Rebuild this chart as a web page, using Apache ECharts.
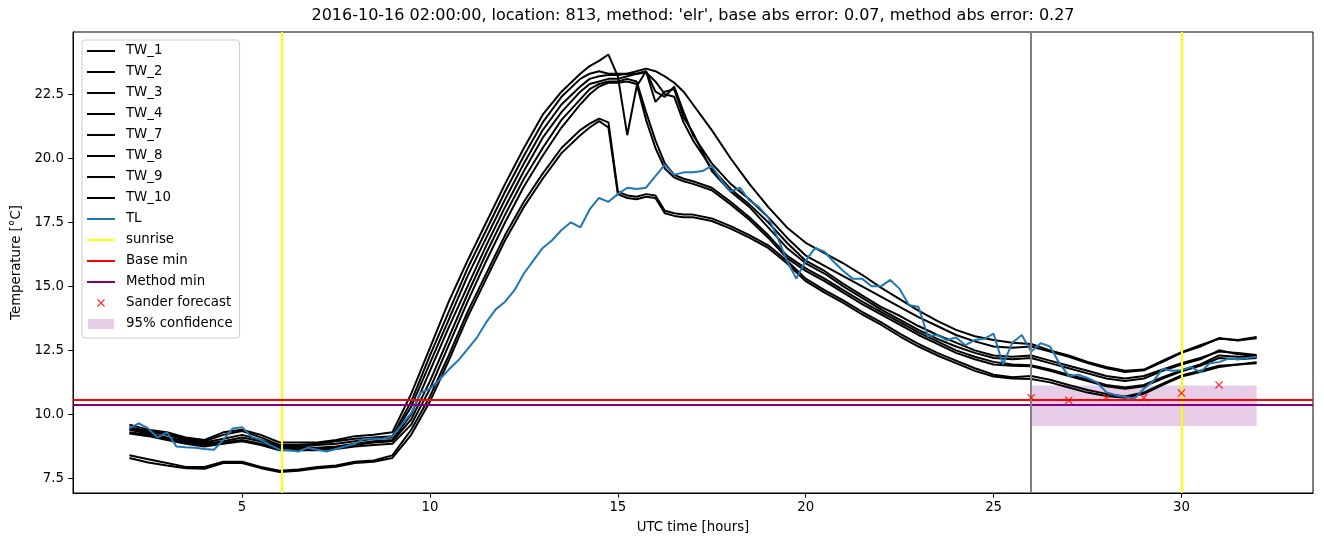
<!DOCTYPE html>
<html>
<head>
<meta charset="utf-8">
<title>TW / TL temperatures, location 813</title>
<script src="https://cdn.jsdelivr.net/npm/echarts@6/dist/echarts.min.js"></script>
<style>
  html, body { margin: 0; padding: 0; background: #fff; }
  #chart { width: 1324px; height: 547px; }
</style>
</head>
<body>
<div id="chart"></div>
<script>
// ---------- data ----------

// shared time grid for the TW stations (finer around the afternoon peak)
const twHours = [2, 2.5, 3, 3.5, 4, 4.5, 5, 5.5, 6, 6.5, 7, 7.5, 8, 8.5, 9,
  9.5, 10, 10.5, 11, 11.5, 12, 12.5, 13, 13.5, 14, 14.25, 14.5, 14.75,
  15, 15.25, 15.5, 15.75, 16, 16.25, 16.5, 16.75, 17,
  17.5, 18, 18.5, 19, 19.5, 20, 20.5, 21, 21.5, 22, 22.5, 23, 23.5, 24, 24.5, 25, 25.5,
  26, 26.5, 27, 27.5, 28, 28.5, 29, 29.5, 30, 30.5, 31, 31.5, 32];

const tw1 = [9.5, 9.35, 9.25, 9.05, 8.95, 9.2, 9.35, 9.1, 8.8, 8.8, 8.85, 8.95, 9.05, 9.1, 9.15,
  10.5, 12.3, 14.0, 15.7, 17.2, 18.7, 20.1, 21.4, 22.4, 23.1, 23.3, 23.4, 23.3,
  23.3, 23.3, 23.4, 23.5, 23.4, 23.2, 22.95, 22.6, 22.1,
  21.1, 20.0, 19.0, 18.1, 17.3, 16.7, 16.3, 15.9, 15.45, 14.95, 14.5, 14.05, 13.65, 13.3, 13.05, 12.9, 12.8,
  12.75, 12.5, 12.3, 12.05, 11.85, 11.7, 11.75, 12.1, 12.43, 12.7, 12.95, 12.9, 13.02];
const tw2 = [9.45, 9.3, 9.2, 9.0, 8.9, 9.05, 9.2, 9.0, 8.75, 8.75, 8.8, 8.85, 8.95, 9.05, 9.1,
  10.3, 12.0, 13.7, 15.4, 16.9, 18.4, 19.8, 21.1, 22.1, 22.8, 23.1, 23.2, 23.25,
  23.25, 23.3, 23.3, 23.4, 22.6, 22.4, 22.8, 21.8, 20.9,
  19.8, 19.0, 18.4, 17.7, 16.9, 16.2, 15.8, 15.4, 15.0, 14.6, 14.2, 13.8, 13.45, 13.1, 12.85, 12.65, 12.6,
  12.65, 12.45, 12.25, 12.0, 11.8, 11.65, 11.72, 12.05, 12.4, 12.65, 12.98, 12.88, 12.97];
const tw3 = [9.6, 9.4, 9.3, 9.1, 9.0, 9.3, 9.4, 9.2, 8.9, 8.9, 8.9, 9.0, 9.15, 9.2, 9.3,
  10.8, 12.6, 14.4, 16.0, 17.5, 19.0, 20.4, 21.7, 22.6, 23.3, 23.6, 23.8, 24.05,
  23.2, 20.9, 22.8, 23.4, 22.2, 22.6, 22.7, 21.6, 21.0,
  19.5, 18.7, 18.1, 17.3, 16.5, 15.9, 15.5, 15.0, 14.55, 14.1, 13.7, 13.3, 12.95, 12.65, 12.4, 12.2, 12.15,
  12.2, 12.0, 11.8, 11.6, 11.4, 11.3, 11.4, 11.7, 11.95, 12.15, 12.5, 12.35, 12.28];
const tw4 = [9.4, 9.25, 9.1, 8.95, 8.85, 8.95, 9.1, 8.95, 8.7, 8.7, 8.7, 8.75, 8.85, 8.95, 9.0,
  10.0, 11.7, 13.4, 15.0, 16.6, 18.1, 19.5, 20.8, 21.8, 22.6, 22.9, 23.0, 23.1,
  23.1, 23.2, 23.3, 23.35, 23.0, 22.5, 22.4, 21.4, 20.7,
  19.6, 18.8, 18.2, 17.5, 16.7, 16.0, 15.6, 15.1, 14.65, 14.2, 13.85, 13.45, 13.1, 12.8, 12.5, 12.3, 12.25,
  12.3, 12.1, 11.9, 11.7, 11.5, 11.4, 11.5, 11.75, 12.0, 12.2, 12.45, 12.4, 12.32];
const tw7 = [9.3, 9.2, 9.05, 8.9, 8.8, 8.9, 9.0, 8.85, 8.65, 8.65, 8.65, 8.7, 8.8, 8.9, 8.95,
  9.8, 11.3, 13.0, 14.7, 16.3, 17.8, 19.2, 20.4, 21.5, 22.3, 22.7, 22.9, 23.0,
  23.0, 23.1, 23.0, 21.8, 20.7, 19.8, 19.35, 19.2, 19.1,
  18.85, 18.3, 17.7, 17.0, 16.2, 15.7, 15.3, 14.85, 14.4, 14.0, 13.6, 13.2, 12.85, 12.5, 12.25, 12.05, 11.95,
  11.92, 11.75, 11.55, 11.35, 11.15, 11.05, 11.15, 11.45, 11.72, 11.95, 12.3, 12.25, 12.24];
const tw8 = [9.25, 9.15, 9.0, 8.85, 8.75, 8.85, 8.95, 8.8, 8.6, 8.6, 8.6, 8.65, 8.75, 8.8, 8.85,
  9.6, 11.0, 12.7, 14.4, 16.0, 17.5, 18.9, 20.1, 21.2, 22.1, 22.5, 22.8, 22.95,
  22.95, 23.0, 22.9, 21.5, 20.4, 19.6, 19.25, 19.1, 19.0,
  18.75, 18.2, 17.6, 16.9, 16.1, 15.6, 15.2, 14.75, 14.3, 13.9, 13.5, 13.1, 12.75, 12.4, 12.15, 11.95, 11.9,
  11.88, 11.7, 11.5, 11.3, 11.1, 11.0, 11.1, 11.4, 11.68, 11.9, 12.2, 12.15, 12.2];
const tw9 = [8.4, 8.25, 8.1, 7.95, 7.95, 8.15, 8.15, 7.95, 7.8, 7.85, 7.95, 8.0, 8.15, 8.2, 8.4,
  9.4, 10.7, 12.3, 14.0, 15.5, 17.0, 18.3, 19.4, 20.4, 21.1, 21.35, 21.55, 21.4,
  18.7, 18.55, 18.5, 18.6, 18.55, 17.95, 17.85, 17.8, 17.8,
  17.65, 17.35, 17.0, 16.6, 16.0, 15.3, 14.85, 14.45, 14.0, 13.6, 13.15, 12.75, 12.4, 12.1, 11.8, 11.55, 11.45,
  11.5, 11.35, 11.15, 10.95, 10.8, 10.7, 10.85, 11.2, 11.52, 11.7, 11.9, 11.95, 12.04];
const tw10 = [8.3, 8.12, 8.0, 7.9, 7.88, 8.1, 8.1, 7.9, 7.75, 7.8, 7.9, 7.95, 8.1, 8.15, 8.3,
  9.2, 10.5, 12.1, 13.8, 15.3, 16.8, 18.1, 19.2, 20.2, 20.9, 21.2, 21.45, 21.2,
  18.6, 18.45, 18.4, 18.5, 18.45, 17.85, 17.75, 17.7, 17.7,
  17.55, 17.25, 16.9, 16.5, 15.9, 15.2, 14.75, 14.35, 13.9, 13.5, 13.05, 12.65, 12.3, 12.0, 11.7, 11.48, 11.4,
  11.38, 11.25, 11.05, 10.85, 10.72, 10.65, 10.8, 11.15, 11.48, 11.65, 11.85, 11.95, 12.0];

const twNames = ['TW_1', 'TW_2', 'TW_3', 'TW_4', 'TW_7', 'TW_8', 'TW_9', 'TW_10'];
const twValues = [tw1, tw2, tw3, tw4, tw7, tw8, tw9, tw10];

// TL, quarter-hour steps
const tlHours = [
  2, 2.25, 2.5, 2.75, 3, 3.25, 3.5, 3.75, 4, 4.25, 4.5, 4.75, 5, 5.25, 5.5, 5.75,
  6, 6.25, 6.5, 6.75, 7, 7.25, 7.5, 7.75, 8, 8.25, 8.5, 8.75, 9, 9.25, 9.5, 9.75,
  10, 10.25, 10.5, 10.75, 11, 11.25, 11.5, 11.75, 12, 12.25, 12.5, 12.75, 13, 13.25, 13.5, 13.75,
  14, 14.25, 14.5, 14.75, 15, 15.25, 15.5, 15.75, 16, 16.25, 16.5, 16.75, 17, 17.25, 17.5, 17.75,
  18, 18.25, 18.5, 18.75, 19, 19.25, 19.5, 19.75, 20, 20.25, 20.5, 20.75, 21, 21.25, 21.5, 21.75,
  22, 22.25, 22.5, 22.75, 23, 23.25, 23.5, 23.75, 24, 24.25, 24.5, 24.75, 25, 25.25, 25.5, 25.75,
  26, 26.25, 26.5, 26.75, 27, 27.25, 27.5, 27.75, 28, 28.25, 28.5, 28.75, 29, 29.25, 29.5, 29.75,
  30, 30.25, 30.5, 30.75, 31, 31.25, 31.5, 31.75, 32];
const tlTemps = [
  9.45, 9.65, 9.45, 9.1, 9.3, 8.75, 8.72, 8.7, 8.65, 8.62, 9.0, 9.45, 9.5, 9.12, 9.0, 8.8,
  8.62, 8.6, 8.55, 8.7, 8.62, 8.55, 8.65, 8.75, 8.85, 9.05, 9.05, 9.05, 9.15, 9.6, 10.05, 10.85,
  11.0, 11.35, 11.75, 12.1, 12.55, 13.0, 13.6, 14.1, 14.4, 14.85, 15.5, 16.0, 16.5, 16.8, 17.2, 17.5,
  17.3, 18.0, 18.45, 18.3, 18.6, 18.85, 18.8, 18.85, 19.3, 19.75, 19.35, 19.45, 19.45, 19.5, 19.7, 19.15,
  18.7, 18.85, 18.35, 18.1, 17.7, 16.9, 16.0, 15.3, 16.0, 16.5, 16.35, 15.95, 15.6, 15.3, 15.3, 15.0,
  15.0, 15.25, 14.9, 14.26, 14.2, 13.05, 13.1, 12.9, 13.0, 12.7, 12.9, 12.95, 13.15, 11.95, 12.8, 13.1,
  12.45, 12.78, 12.65, 12.0, 11.5, 11.55, 11.42, 11.25, 10.87, 10.75, 10.68, 10.62, 11.0, 11.3, 11.78, 11.7,
  11.72, 11.85, 11.65, 12.0, 12.04, 12.18, 12.15, 12.2, 12.25];

const sunriseHours = [6.06, 30.02];
const baseMin = 10.57;
const methodMin = 10.37;
const forecastStart = 26;

const sanderHours = [26, 27, 28, 29, 30, 31];
const sanderTemps = [10.65, 10.55, 10.66, 10.65, 10.83, 11.15];

const bandStart = 26, bandEnd = 32, bandLow = 9.55, bandHigh = 11.13;

const xTicks = [5, 10, 15, 20, 25, 30];
const yTicks = [7.5, 10, 12.5, 15, 17.5, 20, 22.5];

// ---------- chart ----------
const font = 'DejaVu Sans';
const pairs = (xs, ys) => xs.map((x, i) => [x, ys[i]]);

// icons sized to the 28x14 legend box
const lineIcon = 'path://M0,0 M0,6 L28,6 L28,8 L0,8 Z M28,14';
const patchIcon = 'path://M0,0 M1,2 L27,2 L27,12 L1,12 Z M28,14';
const crossIcon = 'path://M0,0 M28,14 M10,3.9 L10.9,3 L14,6.1 L17.1,3 L18,3.9 L14.9,7 L18,10.1 L17.1,11 L14,7.9 L10.9,11 L10,10.1 L13.1,7 Z';
const crossSymbol = 'path://M0,0.9 L0.9,0 L4,3.1 L7.1,0 L8,0.9 L4.9,4 L8,7.1 L7.1,8 L4,4.9 L0.9,8 L0,7.1 L3.1,4 Z';

const chart = echarts.init(document.getElementById('chart'));

const series = [];

series.push({
  name: '95% confidence',
  type: 'custom',
  z: 1,
  itemStyle: { color: 'rgba(128,0,128,0.2)' },
  data: [[bandStart, bandEnd, bandLow, bandHigh]],
  encode: { x: [0, 1], y: [2, 3] },
  renderItem: function (params, api) {
    const p0 = api.coord([api.value(0), api.value(3)]);
    const p1 = api.coord([api.value(1), api.value(2)]);
    return {
      type: 'rect',
      shape: { x: p0[0], y: p0[1], width: p1[0] - p0[0], height: p1[1] - p0[1] },
      style: { fill: 'rgba(128,0,128,0.2)' }
    };
  }
});

twNames.forEach(function (name, i) {
  series.push({
    name: name,
    type: 'line',
    z: 2,
    symbol: 'none',
    color: '#000',
    lineStyle: { color: '#000', width: 2 },
    data: pairs(twHours, twValues[i])
  });
});

series.push({
  name: 'TL',
  type: 'line',
  z: 3,
  symbol: 'none',
  color: '#1f77b4',
  lineStyle: { color: '#1f77b4', width: 2 },
  data: pairs(tlHours, tlTemps)
});

function refLine(name, color, items, z) {
  return {
    name: name,
    type: 'line',
    z: z,
    color: color,
    symbol: 'none',
    data: [],
    markLine: {
      silent: true,
      symbol: ['none', 'none'],
      label: { show: false },
      emphasis: { disabled: true },
      lineStyle: { color: color, width: 2, type: 'solid' },
      data: items
    }
  };
}

series.push(refLine('sunrise', '#ffff00', sunriseHours.map(h => ({ xAxis: h })), 4));
series.push(refLine('Base min', '#ff0000', [{ yAxis: baseMin }], 4));
series.push(refLine('Method min', '#800080', [{ yAxis: methodMin }], 4));
series.push(refLine('start', '#808080', [{ xAxis: forecastStart }], 4));

series.push({
  name: 'Sander forecast',
  type: 'scatter',
  z: 5,
  symbol: crossSymbol,
  symbolSize: 8,
  color: '#ff0000',
  itemStyle: { color: '#ff0000' },
  data: pairs(sanderHours, sanderTemps)
});

const legendData = twNames.map(n => ({ name: n, icon: lineIcon }))
  .concat([
    { name: 'TL', icon: lineIcon },
    { name: 'sunrise', icon: lineIcon },
    { name: 'Base min', icon: lineIcon },
    { name: 'Method min', icon: lineIcon },
    { name: 'Sander forecast', icon: crossIcon },
    { name: '95% confidence', icon: patchIcon }
  ]);

const option = {
  animation: false,
  backgroundColor: '#fff',
  title: {
    text: "2016-10-16 02:00:00, location: 813, method: 'elr', base abs error: 0.07, method abs error: 0.27",
    left: 693,
    top: 8,
    padding: 0,
    textAlign: 'center',
    textStyle: { fontFamily: font, fontSize: 16, fontWeight: 'normal', color: '#000' }
  },
  grid: {
    left: 73, right: 11, top: 32, bottom: 54,
    show: true, borderColor: '#000', borderWidth: 1, backgroundColor: 'transparent'
  },
  legend: {
    orient: 'vertical',
    left: 82,
    top: 40,
    padding: [4, 7, 7, 5],
    itemWidth: 28,
    itemHeight: 14,
    itemGap: 7,
    selectedMode: false,
    borderColor: '#cccccc',
    borderWidth: 1,
    borderRadius: 3,
    backgroundColor: 'rgba(255,255,255,0.8)',
    itemStyle: { borderWidth: 0 },
    textStyle: { fontFamily: font, fontSize: 13.3, color: '#000', padding: [0, 0, 0, 6] },
    data: legendData
  },
  xAxis: {
    type: 'value',
    min: 0.5,
    max: 33.5,
    name: 'UTC time [hours]',
    nameLocation: 'middle',
    nameGap: 28,
    nameTextStyle: { fontFamily: font, fontSize: 13.3, color: '#000' },
    splitLine: { show: false },
    axisLine: { show: true, onZero: false, lineStyle: { color: '#000', width: 1 } },
    axisTick: { show: true, length: 4.7, customValues: xTicks, lineStyle: { color: '#000', width: 1 } },
    axisLabel: { customValues: xTicks, margin: 8, fontFamily: font, fontSize: 13.3, color: '#000' }
  },
  yAxis: {
    type: 'value',
    min: 6.93,
    max: 24.93,
    name: 'Temperature [°C]',
    nameLocation: 'middle',
    nameGap: 48,
    nameRotate: 90,
    nameTextStyle: { fontFamily: font, fontSize: 13.3, color: '#000' },
    splitLine: { show: false },
    axisLine: { show: true, onZero: false, lineStyle: { color: '#000', width: 1 } },
    axisTick: { show: true, length: 4.7, customValues: yTicks, lineStyle: { color: '#000', width: 1 } },
    axisLabel: {
      customValues: yTicks, margin: 9, fontFamily: font, fontSize: 13.3, color: '#000',
      formatter: v => v.toFixed(1)
    }
  },
  series: series
};

chart.setOption(option);
</script>
</body>
</html>
